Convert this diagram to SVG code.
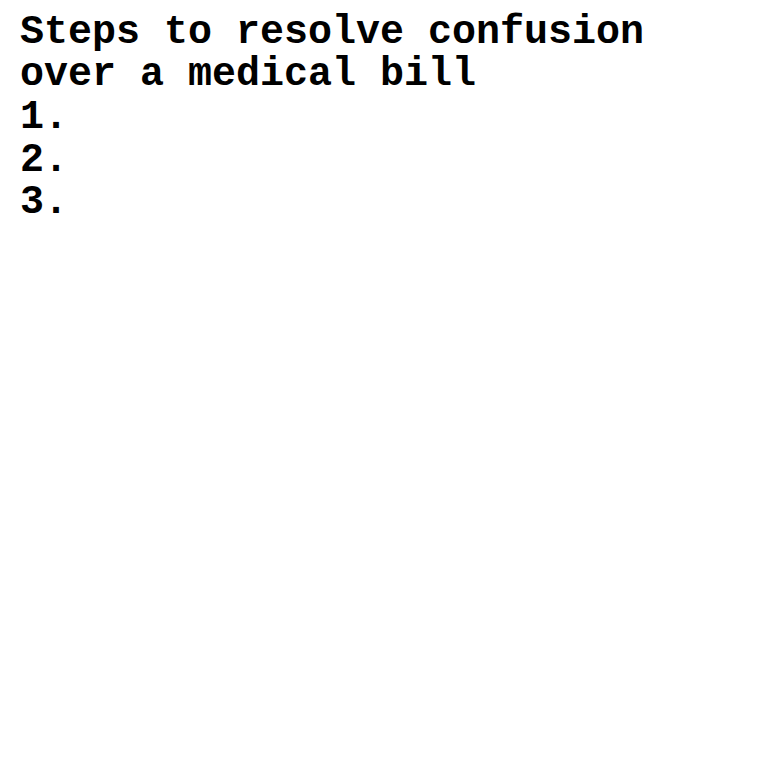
<svg xmlns="http://www.w3.org/2000/svg" width="760" height="760" viewBox="0 0 760 760">
<style>
text { font-family: "Courier New", "Nimbus Mono PS", "FreeMono", "Liberation Mono", monospace; font-weight: bold; font-size: 40px; fill: #000; }
</style>
<rect width="760" height="760" fill="#fff"/>
<g id="title">
<text x="20" y="43">Steps to resolve confusion</text>
<text x="20" y="85">over a medical bill</text>
</g>
<g id="step1"><text x="20" y="128">1.</text></g>
<g id="step2"><text x="20" y="171">2.</text></g>
<g id="step3"><text x="20" y="213">3.</text></g>
<g id="connectors"></g>
</svg>
